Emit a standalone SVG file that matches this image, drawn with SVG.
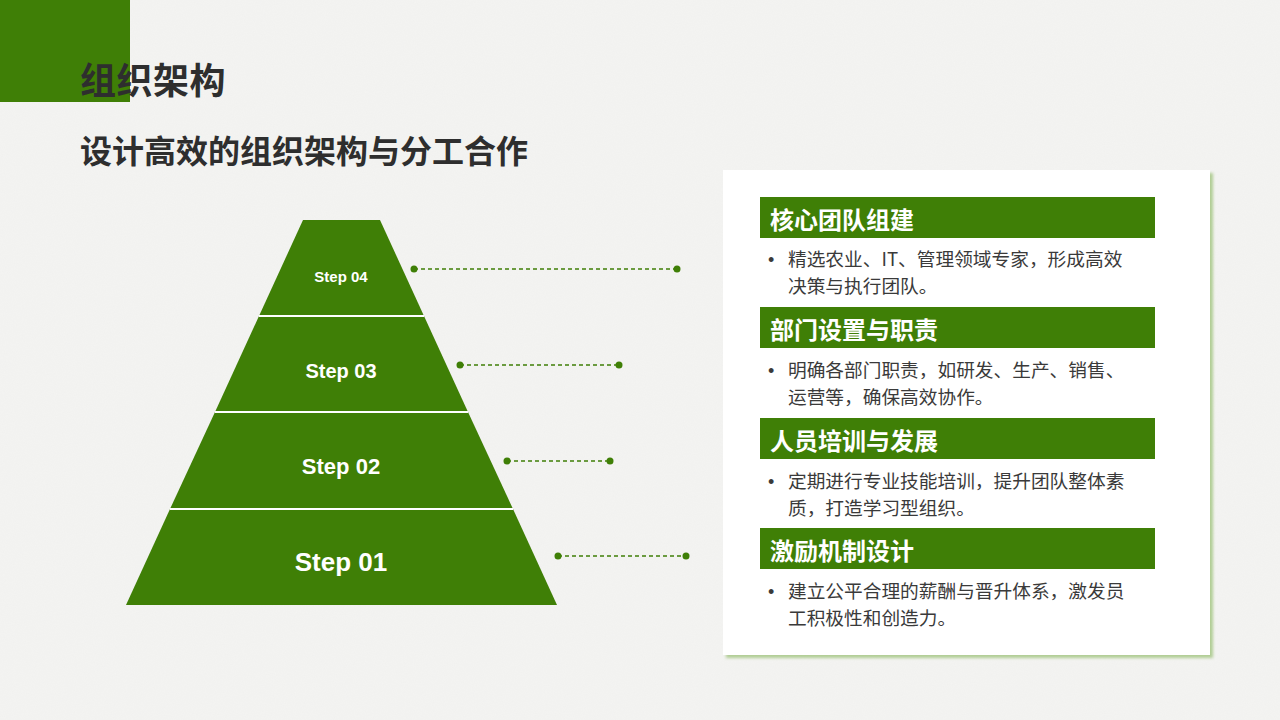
<svg xmlns="http://www.w3.org/2000/svg" width="1280" height="720" viewBox="0 0 1280 720">
  <defs>
    <style>
      .cjk { font-family: "Noto Sans CJK SC", "Liberation Sans", sans-serif; }
      .title { font-size: 36px; font-weight: bold; fill: #2e2e2e; }
      .sub { font-size: 32px; font-weight: bold; fill: #2e2e2e; }
      .step { font-family: "Liberation Sans", Arial, sans-serif; font-weight: bold; fill: #ffffff; text-anchor: middle; }
      .head { font-size: 24px; font-weight: bold; fill: #ffffff; }
      .body { font-size: 18.7px; fill: #3a3a3a; }
      .bullet { font-family: "Liberation Sans", Arial, sans-serif; font-size: 18px; fill: #3a3a3a; }
      .bar { fill: #3f7f06; }
      .conn { stroke: #3f7f06; stroke-width: 1.5; stroke-dasharray: 4 3; fill: none; }
      .dot { fill: #3f7f06; }
      .sep { stroke: #ffffff; stroke-width: 2; }
    </style>
    <filter id="gshadow" x="-5%" y="-5%" width="115%" height="115%">
      <feGaussianBlur in="SourceAlpha" stdDeviation="1.5" result="b"/>
      <feOffset in="b" dx="3" dy="3" result="o"/>
      <feFlood flood-color="#a9c98a" flood-opacity="0.9" result="c"/>
      <feComposite in="c" in2="o" operator="in" result="s"/>
      <feMerge><feMergeNode in="s"/><feMergeNode in="SourceGraphic"/></feMerge>
    </filter>
    <filter id="paper" x="0" y="0" width="100%" height="100%">
      <feTurbulence type="fractalNoise" baseFrequency="0.9" numOctaves="2" seed="3" result="n"/>
      <feColorMatrix in="n" type="matrix" values="0 0 0 0 0.5  0 0 0 0 0.5  0 0 0 0 0.5  0 0 0 0.06 0"/>
    </filter>
  </defs>

  <rect x="0" y="0" width="1280" height="720" fill="#f4f4f2"/>
  <rect x="0" y="0" width="1280" height="720" filter="url(#paper)"/>

  <g id="corner">
    <rect x="0" y="0" width="130" height="102" fill="#3f7f06"/>
  </g>

  <g id="titles">
    <text class="cjk title" x="80" y="94" letter-spacing="0.5">组织架构</text>
    <text class="cjk sub" x="80" y="163">设计高效的组织架构与分工合作</text>
  </g>

  <g id="pyramid">
    <g id="step04">
      <polygon points="303,220 380,220 424,316 259,316" fill="#3f7f06"/>
      <text class="step" x="341" y="282" font-size="15">Step 04</text>
    </g>
    <g id="step03">
      <polygon points="259,316 424,316 468,412 215,412" fill="#3f7f06"/>
      <text class="step" x="341" y="378" font-size="20">Step 03</text>
    </g>
    <g id="step02">
      <polygon points="215,412 468,412 513,509 170,509" fill="#3f7f06"/>
      <text class="step" x="341" y="474" font-size="22">Step 02</text>
    </g>
    <g id="step01">
      <polygon points="170,509 513,509 557,605 126,605" fill="#3f7f06"/>
      <text class="step" x="341" y="571" font-size="26">Step 01</text>
    </g>
    <line class="sep" x1="259" y1="316" x2="424" y2="316"/>
    <line class="sep" x1="215" y1="412" x2="468" y2="412"/>
    <line class="sep" x1="170" y1="509" x2="513" y2="509"/>
  </g>

  <g id="connectors">
    <line class="conn" x1="414" y1="269" x2="677" y2="269"/>
    <circle class="dot" cx="414" cy="269" r="3.5"/>
    <circle class="dot" cx="677" cy="269" r="3.5"/>
    <line class="conn" x1="460" y1="365" x2="619" y2="365"/>
    <circle class="dot" cx="460" cy="365" r="3.5"/>
    <circle class="dot" cx="619" cy="365" r="3.5"/>
    <line class="conn" x1="507" y1="461" x2="610" y2="461"/>
    <circle class="dot" cx="507" cy="461" r="3.5"/>
    <circle class="dot" cx="610" cy="461" r="3.5"/>
    <line class="conn" x1="558" y1="556" x2="686" y2="556"/>
    <circle class="dot" cx="558" cy="556" r="3.5"/>
    <circle class="dot" cx="686" cy="556" r="3.5"/>
  </g>

  <g id="card">
    <rect x="723" y="170" width="487" height="485" fill="#ffffff" filter="url(#gshadow)"/>
  </g>

  <g id="item1">
    <rect class="bar" x="760" y="197" width="395" height="41"/>
    <text class="cjk head" x="770" y="229">核心团队组建</text>
    <text class="bullet" x="768" y="266">•</text>
    <text class="cjk body" x="788" y="266">精选农业、IT、管理领域专家，形成高效</text>
    <text class="cjk body" x="788" y="293">决策与执行团队。</text>
  </g>

  <g id="item2">
    <rect class="bar" x="760" y="307" width="395" height="41"/>
    <text class="cjk head" x="770" y="339">部门设置与职责</text>
    <text class="bullet" x="768" y="377">•</text>
    <text class="cjk body" x="788" y="377">明确各部门职责，如研发、生产、销售、</text>
    <text class="cjk body" x="788" y="404">运营等，确保高效协作。</text>
  </g>

  <g id="item3">
    <rect class="bar" x="760" y="418" width="395" height="41"/>
    <text class="cjk head" x="770" y="450">人员培训与发展</text>
    <text class="bullet" x="768" y="488">•</text>
    <text class="cjk body" x="788" y="488">定期进行专业技能培训，提升团队整体素</text>
    <text class="cjk body" x="788" y="515">质，打造学习型组织。</text>
  </g>

  <g id="item4">
    <rect class="bar" x="760" y="528" width="395" height="41"/>
    <text class="cjk head" x="770" y="560">激励机制设计</text>
    <text class="bullet" x="768" y="598">•</text>
    <text class="cjk body" x="788" y="598">建立公平合理的薪酬与晋升体系，激发员</text>
    <text class="cjk body" x="788" y="625">工积极性和创造力。</text>
  </g>
</svg>
